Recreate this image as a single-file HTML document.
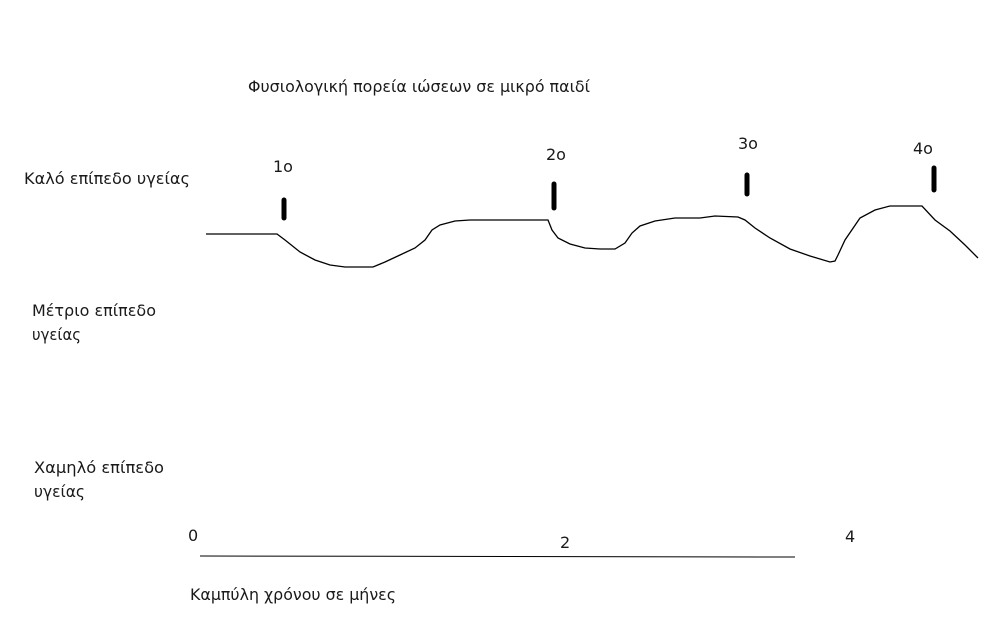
<!DOCTYPE html>
<html><head><meta charset="utf-8"><style>
html,body{margin:0;padding:0;background:#fff;}
svg text{font-family:"DejaVu Sans","Liberation Sans",sans-serif;font-size:16px;fill:#1a1a1a;}
</style></head><body>
<svg width="1008" height="630" viewBox="0 0 1008 630" xmlns="http://www.w3.org/2000/svg">
<text x="248" y="92" textLength="342" lengthAdjust="spacingAndGlyphs">Φυσιολογική πορεία ιώσεων σε μικρό παιδί</text>
<text x="24" y="184" textLength="166" lengthAdjust="spacingAndGlyphs">Καλό επίπεδο υγείας</text>
<text x="32" y="316" textLength="124" lengthAdjust="spacingAndGlyphs">Μέτριο επίπεδο</text>
<text x="32" y="340" textLength="49" lengthAdjust="spacingAndGlyphs">υγείας</text>
<text x="34" y="473" textLength="130" lengthAdjust="spacingAndGlyphs">Χαμηλό επίπεδο</text>
<text x="34" y="497" textLength="51" lengthAdjust="spacingAndGlyphs">υγείας</text>
<text x="188" y="541">0</text>
<text x="560" y="548">2</text>
<text x="845" y="542">4</text>
<text x="190" y="600" textLength="206" lengthAdjust="spacingAndGlyphs">Καμπύλη χρόνου σε μήνες</text>
<text x="273" y="172">1ο</text>
<text x="546" y="160">2ο</text>
<text x="738" y="149">3ο</text>
<text x="913" y="154">4ο</text>
<line x1="200" y1="556" x2="795" y2="557" stroke="#000" stroke-width="1"/>
<g stroke="#000" stroke-width="5" stroke-linecap="round">
<line x1="284" y1="200" x2="284" y2="218"/>
<line x1="554" y1="184" x2="554" y2="208"/>
<line x1="747" y1="175" x2="747" y2="194"/>
<line x1="934" y1="168" x2="934" y2="190"/>
</g>
<polyline fill="none" stroke="#000" stroke-width="1.3" points="206,234 277,234 285,240 300,252 315,260 330,265 345,267 373,267 385,262 400,255 415,248 425,240 432,230 440,225 455,221 470,220 548,220 552,230 558,238 570,244 585,248 600,249 615,249 625,243 632,233 640,226 655,221 675,218 700,218 715,216 738,217 745,220 755,228 770,238 790,249 810,256 830,262 835,261 838,255 845,240 860,218 875,210 890,206 922,206 935,220 950,231 965,245 978,258"/>
</svg>
</body></html>
